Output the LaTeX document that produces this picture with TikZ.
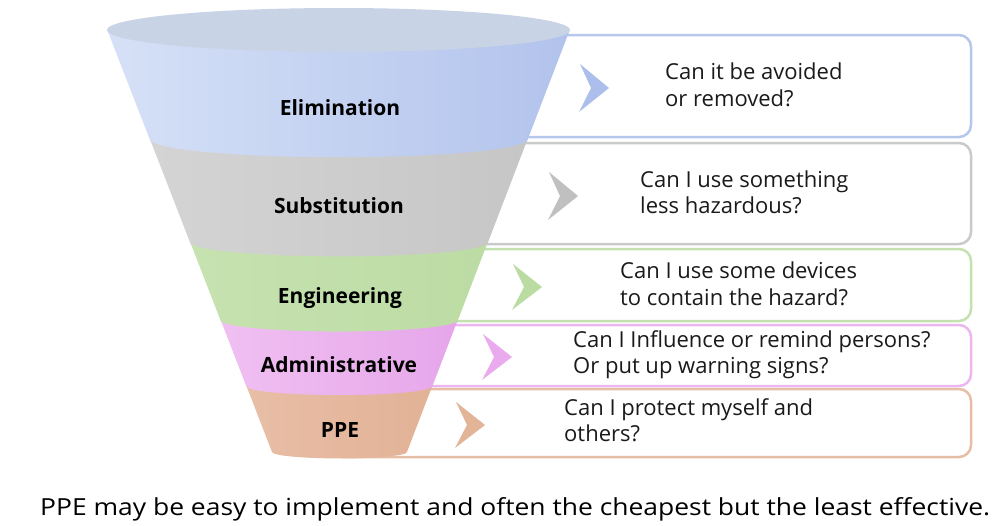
\documentclass[tikz,border=0pt]{standalone}
\usepackage{fontspec}
\setmainfont{Open Sans}
\usepackage{graphicx}
\definecolor{topface}{RGB}{201,211,230}
\definecolor{blueL}{RGB}{214,225,247}
\definecolor{blueM}{RGB}{232,238,252}
\definecolor{blueR}{RGB}{178,195,236}
\definecolor{grayL}{RGB}{212,212,212}
\definecolor{grayM}{RGB}{242,242,242}
\definecolor{grayR}{RGB}{198,198,198}
\definecolor{greenL}{RGB}{198,226,176}
\definecolor{greenM}{RGB}{230,244,218}
\definecolor{greenR}{RGB}{188,220,164}
\definecolor{pinkL}{RGB}{240,192,242}
\definecolor{pinkM}{RGB}{250,216,250}
\definecolor{pinkR}{RGB}{230,166,234}
\definecolor{peachL}{RGB}{232,190,166}
\definecolor{peachM}{RGB}{248,222,206}
\definecolor{peachR}{RGB}{226,178,150}
\definecolor{bdblue}{RGB}{182,199,236}
\definecolor{bdgray}{RGB}{202,202,202}
\definecolor{bdgreen}{RGB}{198,225,176}
\definecolor{bdpink}{RGB}{236,182,240}
\definecolor{bdpeach}{RGB}{230,190,166}
\definecolor{chblue}{RGB}{172,190,236}
\definecolor{chgray}{RGB}{192,192,192}
\definecolor{chgreen}{RGB}{186,220,162}
\definecolor{chpink}{RGB}{234,170,238}
\definecolor{chpeach}{RGB}{226,180,152}
\definecolor{txt}{RGB}{26,26,26}

\newcommand\funnelband[5]{%
  \pgfmathsetmacro\fbLt{107+(#1-30)*0.391}%
  \pgfmathsetmacro\fbRt{570-(#1-30)*0.3863}%
  \pgfmathsetmacro\fbLb{107+(#2-30)*0.391}%
  \pgfmathsetmacro\fbRb{570-(#2-30)*0.3863}%
  \pgfmathsetmacro\fbCt{(\fbLt+\fbRt)/2}%
  \pgfmathsetmacro\fbCb{(\fbLb+\fbRb)/2}%
  \pgfmathsetmacro\fbXt{(\fbRt-\fbLt)/2}%
  \pgfmathsetmacro\fbXb{(\fbRb-\fbLb)/2}%
  \pgfmathsetmacro\fbYt{0.095*\fbXt}%
  \pgfmathsetmacro\fbYb{0.095*\fbXb}%
  \pgfmathsetmacro\fbT{#1-0.7}%
  \shade[left color=#3, middle color=#4, right color=#5]
   (\fbLt,\fbT) .. controls (\fbLt,{\fbT+0.5523*\fbYt}) and ({\fbCt-0.5523*\fbXt},{\fbT+\fbYt}) .. (\fbCt,{\fbT+\fbYt})
   .. controls ({\fbCt+0.5523*\fbXt},{\fbT+\fbYt}) and (\fbRt,{\fbT+0.5523*\fbYt}) .. (\fbRt,\fbT)
   -- (\fbRb,#2)
   .. controls (\fbRb,{#2+0.5523*\fbYb}) and ({\fbCb+0.5523*\fbXb},{#2+\fbYb}) .. (\fbCb,{#2+\fbYb})
   .. controls ({\fbCb-0.5523*\fbXb},{#2+\fbYb}) and (\fbLb,{#2+0.5523*\fbYb}) .. (\fbLb,#2)
   -- cycle;
}

\tikzset{
  flabel/.style={font=\fontsize{21}{25}\selectfont\bfseries, text=black, anchor=base, inner sep=0pt},
  qtext/.style={font=\fontsize{22}{27}\selectfont, text=txt, anchor=base west, inner sep=0pt},
  qbox/.style={line width=2.5pt, rounded corners=12pt, fill=white},
}

\begin{document}
\begin{tikzpicture}[x=1pt,y=-1pt]
\useasboundingbox (0,0) rectangle (999,525);
\fill[white] (0,0) rectangle (999,525);

% answer boxes (behind funnel)
\draw[qbox, draw=bdblue]  (330,35)  rectangle (971,137);
\draw[qbox, draw=bdgray]  (330,143) rectangle (971,244);
\draw[qbox, draw=bdgreen] (330,249) rectangle (971,321);
\draw[qbox, draw=bdpink]  (330,325) rectangle (971,386);
\draw[qbox, draw=bdpeach] (330,389) rectangle (971,457);

% chevrons
\fill[chblue]  (580,64)  -- (609,88)  -- (579,112) -- (591,88)  -- cycle;
\fill[chgray]  (549,172) -- (578,196) -- (548,220) -- (560,196) -- cycle;
\fill[chgreen] (513,264) -- (542,287) -- (512,310) -- (524,287) -- cycle;
\fill[chpink]  (483,334) -- (512,357) -- (482,380) -- (494,357) -- cycle;
\fill[chpeach] (456,402) -- (485,425) -- (455,448) -- (467,425) -- cycle;

% funnel
\funnelband{30}{140}{blueL}{blueM}{blueR}
\funnelband{140}{243}{grayL}{grayM}{grayR}
\funnelband{243}{321}{greenL}{greenM}{greenR}
\funnelband{321}{387}{pinkL}{pinkM}{pinkR}
\funnelband{387}{452}{peachL}{peachM}{peachR}
\fill[topface] (338.5,30) ellipse [x radius=231.5, y radius=22];

% funnel labels
\node[flabel] (elim)  at (340,115) {Elimination};
\node[flabel] (subst) at (339,213) {Substitution};
\node[flabel] (engin) at (340,303) {Engineering};
\node[flabel] (admin) at (339,372) {Administrative};
\node[flabel] (ppe)   at (340,437) {PPE};

% questions
\node[qtext] (q1a) at (665,79)  {Can it be avoided};
\node[qtext] (q1b) at (665,106) {or removed?};
\node[qtext] (q2a) at (640,187) {Can I use something};
\node[qtext] (q2b) at (640,213) {less hazardous?};
\node[qtext] (q3a) at (620,278) {Can I use some devices};
\node[qtext] (q3b) at (620,305) {to contain the hazard?};
\node[qtext] (q4a) at (573,347) {Can I Influence or remind persons?};
\node[qtext] (q4b) at (573,373) {Or put up warning signs?};
\node[qtext] (q5a) at (564,415) {Can I protect myself and};
\node[qtext] (q5b) at (564,441) {others?};

% bottom note
\node[anchor=base west, inner sep=0pt, text=black] (note) at (40,515)
  {\resizebox{950pt}{\height}{\fontsize{23.5}{28}\selectfont PPE may be easy to implement and often the cheapest but the least effective.}};
\end{tikzpicture}
\end{document}
